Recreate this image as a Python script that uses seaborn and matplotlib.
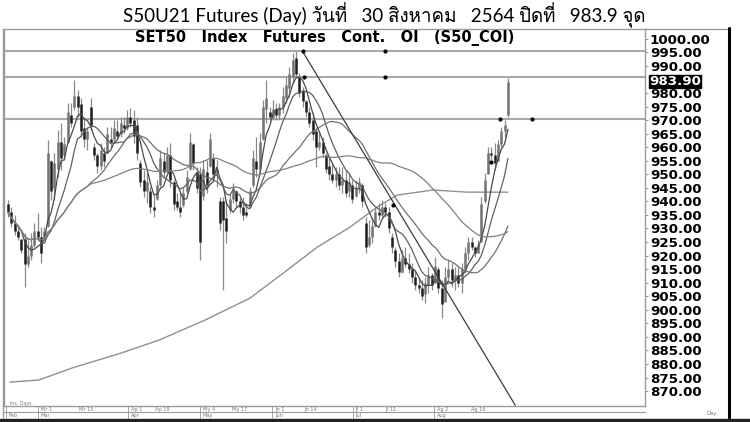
import numpy as np
import pandas as pd
import matplotlib
matplotlib.use('Agg')
import matplotlib.pyplot as plt
import matplotlib.transforms as mtransforms
from matplotlib.lines import Line2D
from matplotlib import font_manager as fm
from matplotlib.ft2font import FT2Font
import seaborn as sns

# ---------------- data ----------------
highs = [940.5, 937.9, 935.0, 930.5, 925.7, 928.3, 925.7, 928.3, 932.0, 935.7,
         930.5, 930.5, 962.6, 955.2, 957.8, 966.3, 968.9, 963.7, 976.3, 976.3,
         984.8, 981.1, 978.1, 971.1, 967.4, 978.1, 961.5, 957.8, 961.5, 960.0,
         967.4, 967.4, 970.0, 970.0, 971.1, 971.1, 973.7, 974.4, 973.7, 971.1,
         955.2, 951.5, 950.4, 945.3, 943.1, 947.9, 958.9, 957.8, 960.0, 961.5,
         947.9, 943.1, 943.1, 945.3, 951.5, 965.2, 961.5, 952.7, 952.7, 955.2,
         955.2, 965.2, 957.8, 955.2, 941.6, 941.6, 940.5, 943.1, 946.8, 944.2,
         941.6, 941.6, 939.4, 945.3, 958.9, 963.7, 965.2, 977.4, 984.8, 974.8,
         977.4, 976.3, 976.3, 982.2, 985.9, 989.6, 994.7, 995.5, 987.3, 982.2,
         977.4, 974.8, 972.6, 967.4, 965.2, 963.7, 957.8, 956.3, 954.1, 952.7,
         952.7, 952.7, 951.5, 950.4, 947.9, 947.9, 949.0, 946.8, 934.2, 933.1,
         934.2, 937.9, 939.4, 940.5, 939.4, 937.9, 928.3, 923.1, 920.9, 922.0,
         923.1, 920.9, 917.2, 914.6, 912.1, 911.0, 912.1, 915.8, 913.5, 919.4,
         915.8, 911.0, 915.8, 918.3, 917.2, 915.8, 915.8, 917.2, 923.1, 926.8,
         926.8, 923.1, 925.7, 941.6, 950.4, 960.0, 960.0, 961.5, 962.6, 967.4,
         970.0, 985.5]
lows = [934.2, 930.5, 927.6, 925.7, 920.9, 908.4, 915.8, 918.3, 923.1, 925.7,
        917.2, 925.7, 930.5, 940.5, 940.5, 949.0, 951.5, 955.2, 961.5, 967.4,
        973.7, 971.1, 963.7, 960.0, 958.9, 966.3, 955.2, 950.4, 951.5, 952.7,
        957.8, 960.0, 961.5, 962.6, 963.7, 965.2, 966.3, 967.4, 961.5, 955.2,
        945.3, 941.6, 939.4, 935.7, 934.2, 940.5, 945.3, 949.0, 950.4, 945.3,
        936.8, 936.8, 934.2, 937.9, 943.1, 951.5, 951.5, 943.1, 918.3, 940.5,
        943.1, 952.7, 947.9, 945.3, 929.4, 907.3, 924.6, 935.7, 939.4, 937.9,
        935.7, 933.1, 934.2, 937.9, 945.3, 949.0, 950.4, 962.6, 968.9, 970.0,
        970.0, 970.0, 970.0, 972.6, 976.3, 978.5, 983.7, 985.9, 978.5, 974.8,
        971.1, 967.4, 962.6, 952.7, 958.9, 956.3, 950.4, 947.9, 946.8, 945.3,
        944.2, 943.1, 941.6, 941.6, 939.4, 941.6, 943.1, 937.9, 920.9, 923.1,
        924.6, 930.5, 933.1, 934.2, 934.2, 928.3, 920.9, 915.8, 912.1, 913.5,
        915.8, 913.5, 909.9, 907.3, 906.2, 903.6, 902.5, 906.2, 907.3, 909.9,
        906.2, 897.0, 906.2, 911.0, 908.4, 907.3, 908.4, 906.2, 913.5, 918.3,
        922.0, 919.4, 920.9, 925.7, 939.4, 950.4, 955.2, 951.5, 956.3, 960.0,
        963.7, 971.0]
opens = [939, 936, 932, 929, 926, 926, 917, 920, 924, 929,
         927, 926, 931, 955, 945, 952, 962, 957, 962, 972,
         975, 979, 976, 967, 963, 975, 960, 957, 953, 958,
         958, 963, 963, 966, 965, 968, 967, 971, 970, 968,
         954, 948, 944, 944, 938, 941, 946, 955, 951, 957,
         947, 940, 938, 938.5, 944, 952, 961, 951, 950, 942,
         951, 953, 956, 950, 940, 940, 934, 937, 941, 944,
         940, 938, 936, 938, 946, 955, 952, 963, 974, 973,
         971, 974, 972, 975, 978, 982, 986, 993, 986, 981,
         977, 973, 970, 966, 960, 962, 957, 953, 950, 948,
         950, 946, 948, 944, 946, 942, 945, 946, 932, 924,
         927, 931, 936, 935, 938, 936, 927, 922, 918, 914,
         919, 917, 915, 912, 909, 908, 906, 909, 913, 910,
         915, 908, 903, 912, 915, 911, 913, 910, 915, 921,
         925, 923, 921, 925, 940, 950, 958, 957, 955, 961,
         966, 972]
closes = [936, 932, 929, 927, 922, 917, 920, 924, 929, 927,
          921, 929, 958, 944, 954, 962, 956, 961, 973, 969,
          979, 975, 966, 963, 966, 968, 957, 953, 959, 955,
          965, 962, 967, 964, 969, 967, 971, 969, 964, 958,
          947, 944, 947, 938, 937, 946, 956, 951, 957, 948,
          939, 938, 936, 943, 949, 962, 954, 945, 925, 952,
          946, 963, 950, 952, 932, 933, 929, 941, 945, 940,
          938, 935, 935, 944, 956, 952, 962, 975, 978, 971,
          974, 972, 975, 979, 983, 987, 992, 987, 980, 977,
          973, 969, 965, 960, 962, 958, 952, 950, 948, 950,
          946, 948, 943, 947, 941, 945, 947, 940, 923, 927,
          931, 936, 935, 938, 936, 930, 923, 918, 914, 919,
          917, 915, 912, 909, 908, 905, 910, 913, 909, 916,
          908, 902, 912, 915, 911, 913, 910, 915, 921, 925,
          923, 921, 924, 939, 948, 958, 957, 954, 961, 966,
          968, 983.9]

# long (200-day) moving average, read at sample bars
ma200_bar = [0.6, 9.4, 19.3, 34.1, 45.6, 59.5, 73.1, 83.1, 93.4, 103.3, 111.5, 117.5, 128.4, 138.7, 151]
ma200_val = [873.3, 874.1, 878.5, 884.0, 888.8, 896.2, 904.3, 913.5, 923.1, 930.5, 937.9, 942.3, 944.2, 943.4, 943.4]
ma_windows = [5, 10, 25, 50]

# horizontal resistance levels and their markers
levels = [995.3, 986.0, 970.4]
marker_bar = [89.1, 113.9, 89.5, 113.9, 148.6, 158.3, 116.3, 146.0]
marker_val = [995.3, 995.3, 986.0, 986.0, 970.4, 970.4, 938.6, 954.6]

# down trend line from the top
trend_bar = [89.1, 153.2]
trend_val = [995.1, 864.8]

yticks = [v for v in range(870, 1001, 5) if v != 985]
last_price = 983.9

day_tick_bar = [9.1, 20.8, 36.3, 43.5, 58.0, 67.0, 79.8, 88.8, 104.2, 113.0, 128.7, 139.0]
day_tick_lbl = ['Mr 1', 'Mr 15', 'Ap 1', 'Ap 19', 'My 4', 'My 17', 'Jn 1', 'Jn 14',
                'Jl 1', 'Jl 12', 'Ag 2', 'Ag 16']
month_bar = [-0.5, 9.1, 36.3, 58.0, 79.8, 104.2, 128.7]
month_lbl = ['Feb', 'Mar', 'Apr', 'May', 'Jun', 'Jul', 'Aug']

title = 'S50U21 Futures (Day) วันที่   30 สิงหาคม   2564 ปิดที่   983.9 จุด'
subtitle = 'SET50   Index   Futures   Cont.   OI   (S50_COI)'

# ---------------- fonts ----------------
thai_font = None
for f in fm.fontManager.ttflist:
    try:
        if FT2Font(f.fname).get_char_index(0x0E27):
            thai_font = f.name
            break
    except Exception:
        pass

sns.set_theme(style='white')
plt.rcParams['font.family'] = ['DejaVu Sans']

W, H = 750, 422
fig = plt.figure(figsize=(7.5, 4.22), dpi=100)
fig.patch.set_facecolor('white')


def fx(px):
    return px / W


def fy(py):
    return 1 - py / H


ax = fig.add_axes([fx(4), fy(406), fx(645) - fx(4), fy(29) - fy(406)])
ax.set_facecolor('white')

highs = np.array(highs)
lows = np.array(lows)
opens = np.array(opens)
closes = np.array(closes)
bars = np.arange(len(closes))

# horizontal levels
for v in levels:
    ax.axhline(v, color='#a9a9a9', lw=1.5, zorder=1)

# 200-day MA
sns.lineplot(x=ma200_bar, y=ma200_val, ax=ax, color='#909090', lw=1.0, legend=False, zorder=2)

# candles
ax.vlines(bars, lows, highs, color='#8a8a8a', lw=0.9, zorder=3)
up = closes >= opens
ax.vlines(bars[up], opens[up], closes[up], color='#737373', lw=1.8, zorder=4)
ax.vlines(bars[~up], opens[~up], closes[~up], color='#1e1e1e', lw=1.8, zorder=4)

# moving averages
s = pd.Series(closes)
df = pd.DataFrame({'bar': bars})
for w in ma_windows:
    df[f'MA{w}'] = s.rolling(w, min_periods=1).mean()
ma_colors = {5: '#4a4a4a', 10: '#606060', 25: '#707070', 50: '#808080'}
for w in ma_windows:
    sns.lineplot(data=df, x='bar', y=f'MA{w}', ax=ax, color=ma_colors[w], lw=0.9,
                 legend=False, zorder=5)

# trend line
sns.lineplot(x=trend_bar, y=trend_val, ax=ax, color='#3c3c3c', lw=0.9, legend=False, zorder=5)

# markers
ax.scatter(marker_bar, marker_val, s=9, color='black', zorder=6, linewidths=0)

ax.set_xlim(-1.2, 192.4)
ax.set_ylim(864.5, 1003.6)
ax.set_xlabel('')
ax.set_ylabel('')
ax.set_xticks([])
ax.yaxis.tick_right()
ax.set_yticks(yticks)
ax.set_yticklabels([f'{v:.2f}' for v in yticks])
ax.tick_params(axis='y', which='both', right=True, left=False, direction='out',
               length=2, width=0.6, color='#888888', pad=1.5, labelsize=9.6,
               labelcolor='black')
for lbl in ax.get_yticklabels():
    lbl.set_fontweight('bold')
    lbl.set_family('DejaVu Sans')
for sp in ax.spines.values():
    sp.set_color('#9a9a9a')
    sp.set_linewidth(1.0)

# last price box
ax.annotate(f'{last_price:.2f}', xy=(1.0, last_price),
            xycoords=mtransforms.blended_transform_factory(ax.transAxes, ax.transData),
            xytext=(4, 1), textcoords='offset pixels', ha='left', va='center',
            fontsize=9.6, fontweight='bold', family='DejaVu Sans', color='white',
            bbox=dict(boxstyle='square,pad=0.02', fc='black', ec='black'), zorder=10,
            annotation_clip=False)

# titles
title_family = ['Lato', thai_font] if thai_font else ['Lato', 'DejaVu Sans']
fig.text(fx(384), fy(15.5), title, ha='center', va='center', fontsize=13.5,
         family=title_family, color='black')
fig.text(fx(325), fy(37.5), subtitle, ha='center', va='center', fontsize=10.5,
         fontweight='bold', family='DejaVu Sans', color='black')

# bottom date strip
btr = mtransforms.blended_transform_factory(ax.transData, fig.transFigure)
fig.add_artist(Line2D([fx(3), fx(645)], [fy(411.5), fy(411.5)], color='#9a9a9a', lw=0.8))
for b, t in zip(day_tick_bar, day_tick_lbl):
    fig.text(b + 0.8, fy(409.3), t, transform=btr, fontsize=3.6, color='#777777',
             ha='left', va='center')
for b, t in zip(month_bar, month_lbl):
    fig.text(b + 0.8, fy(415.2), t, transform=btr, fontsize=3.6, color='#777777',
             ha='left', va='center')
    fig.add_artist(Line2D([b, b], [fy(406), fy(418)], transform=btr, color='#9a9a9a', lw=0.6))
fig.text(fx(10), fy(403), 'Ins. Days', fontsize=3.4, color='#777777', ha='left', va='center')
fig.text(fx(712), fy(414), 'Day', fontsize=3.8, color='#777777', ha='center', va='center')

# frame pieces
fig.add_artist(Line2D([fx(645), fx(729)], [fy(29), fy(29)], color='#9a9a9a', lw=1.0))
fig.add_artist(Line2D([fx(729), fx(729)], [fy(28), fy(421)], color='black', lw=2.2))
fig.add_artist(Line2D([0, 1], [fy(420), fy(420)], color='#222222', lw=2.4))
fig.add_artist(Line2D([fx(3), fx(3)], [fy(29), fy(418)], color='#9a9a9a', lw=1.0))

fig.savefig('out.png', dpi=100)
